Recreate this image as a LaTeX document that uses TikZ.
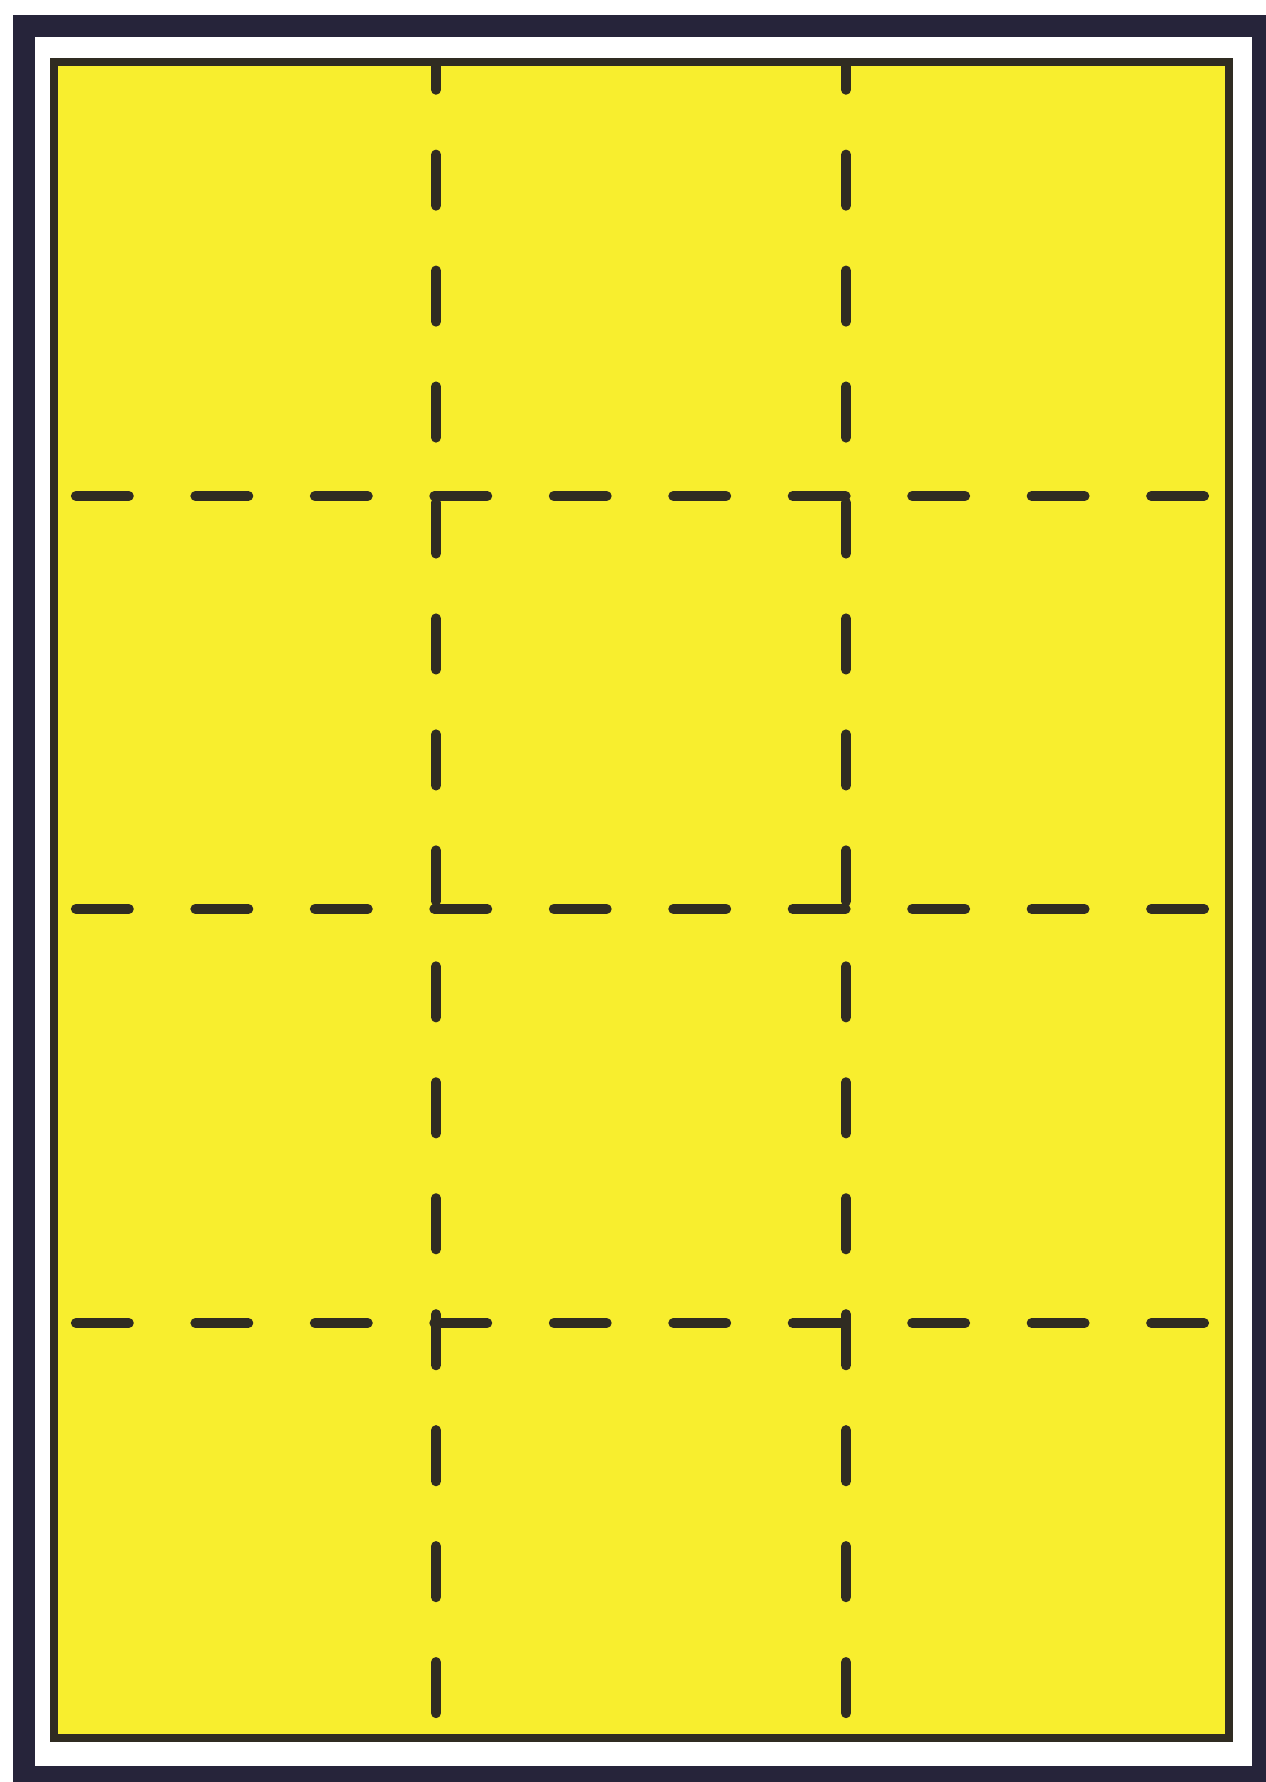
\documentclass[tikz,border=0pt]{standalone}
\usepackage{tikz}
\usepackage{xcolor}
\usetikzlibrary{calc}

\definecolor{sheetyellow}{RGB}{248,238,46}
\definecolor{framenavy}{RGB}{38,36,58}
\definecolor{inkdark}{RGB}{48,44,34}

\begin{document}
\begin{tikzpicture}[
    x=0.02cm, y=-0.02cm,
    %% ── Styles ─────────────────────────────────────────────────
    outerframe/.style={draw=framenavy, line width=12.5pt},
    sheet/.style     ={draw=inkdark, line width=4.4pt, fill=sheetyellow},
    cutline/.style   ={draw=inkdark, line width=5.8pt, line cap=round,
                       dash pattern=on 30pt off 38pt},
    vcutline/.style  ={cutline, dash pattern=on 29pt off 37pt, dash phase=14.4pt}
]

    %% ── Page and corners ───────────────────────────────────────
    \useasboundingbox[fill=white] (0,0) rectangle (1265,1782);
    \coordinate (framenw) at (24,26);
    \coordinate (framese) at (1263,1777);
    \coordinate (sheetnw) at (54,62);
    \coordinate (sheetse) at (1229,1738);

    %% ── Frame and sheet ────────────────────────────────────────
    \draw[outerframe] (framenw) rectangle (framese);
    \draw[sheet]      (sheetnw) rectangle (sheetse);

    %% ── Fold lines ─────────────────────────────────────────────
    \foreach \gy in {496,909,1323}
        \draw[cutline] (76,\gy) -- (1226,\gy);
    \foreach \gx in {436,846}
        \draw[vcutline] (\gx,64) -- (\gx,1736);

\end{tikzpicture}
\end{document}
